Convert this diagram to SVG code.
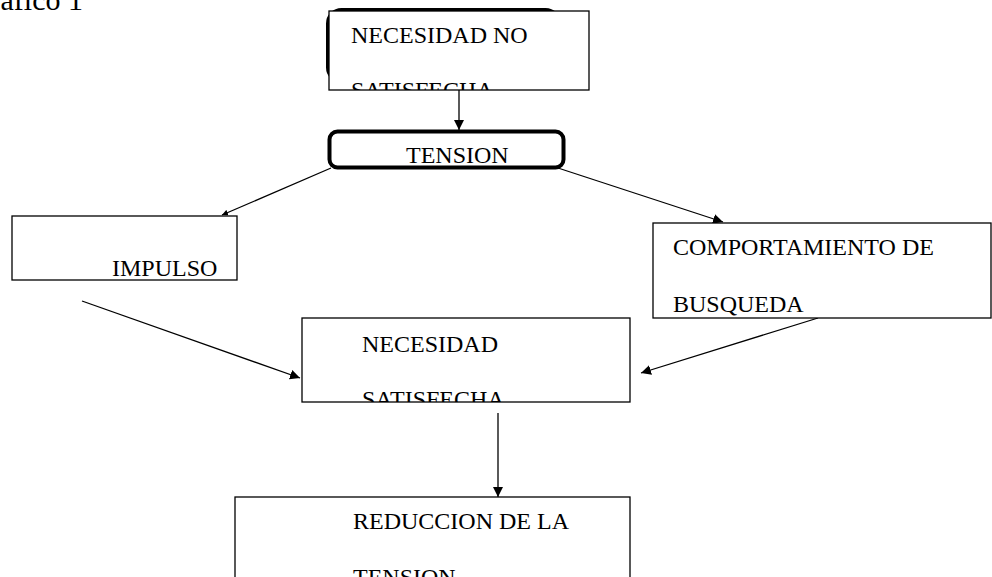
<svg xmlns="http://www.w3.org/2000/svg" width="992" height="577" viewBox="0 0 992 577">
<style>
  .box { fill: #ffffff; stroke: #000000; stroke-width: 1.3; }
  .lbl { font-family: "Liberation Serif", "Times New Roman", serif; font-size: 24px; fill: #000000; }
  .conn { stroke: #000000; stroke-width: 1.3; fill: none; }
</style>
<defs>
  <marker id="ah" viewBox="0 0 10 10" refX="10" refY="5" markerWidth="10" markerHeight="10" markerUnits="userSpaceOnUse" orient="auto">
    <path d="M0,0 L10,5 L0,10 Z" fill="#000000"/>
  </marker>
  <marker id="ahs" viewBox="0 0 10 10" refX="10" refY="5" markerWidth="6" markerHeight="6" markerUnits="userSpaceOnUse" orient="auto">
    <path d="M0,0 L10,5 L0,10 Z" fill="#000000"/>
  </marker>
  <clipPath id="c1"><rect x="329" y="11" width="260" height="79"/></clipPath>
  <clipPath id="c4"><rect x="302" y="318" width="328" height="84"/></clipPath>
  <clipPath id="c6"><rect x="235" y="497" width="395" height="80"/></clipPath>
</defs>
<rect width="992" height="577" fill="#ffffff"/>

<text class="lbl" x="83" y="10" text-anchor="end" style="font-size:30px">afico 1</text>

<g id="connectors">
  <line class="conn" x1="459" y1="90" x2="459" y2="130" marker-end="url(#ah)"/>
  <line class="conn" x1="331" y1="168" x2="222" y2="215" marker-end="url(#ahs)"/>
  <line class="conn" x1="558" y1="168" x2="723" y2="222" marker-end="url(#ah)"/>
  <line class="conn" x1="82" y1="301" x2="300" y2="378" marker-end="url(#ah)"/>
  <line class="conn" x1="818" y1="318" x2="641" y2="373" marker-end="url(#ah)"/>
  <line class="conn" x1="498" y1="413" x2="498" y2="497" marker-end="url(#ah)"/>
</g>

<g id="n1">
  <rect x="327.5" y="9.5" width="232" height="72" rx="14" fill="none" stroke="#000" stroke-width="3"/>
  <rect class="box" x="329" y="11" width="260" height="79"/>
  <g clip-path="url(#c1)">
    <text class="lbl" x="351" y="43">NECESIDAD NO</text>
    <text class="lbl" x="351" y="98">SATISFECHA</text>
  </g>
</g>

<g id="n2">
  <rect x="329.5" y="131.5" width="234" height="36" rx="8" fill="#ffffff" stroke="#000" stroke-width="4"/>
  <text class="lbl" x="406" y="163">TENSION</text>
</g>

<g id="n3">
  <rect class="box" x="12" y="216" width="225" height="64"/>
  <text class="lbl" x="112" y="276">IMPULSO</text>
</g>

<g id="n5">
  <rect class="box" x="653" y="223" width="338" height="95"/>
  <text class="lbl" x="673" y="255">COMPORTAMIENTO DE</text>
  <text class="lbl" x="673" y="312">BUSQUEDA</text>
</g>

<g id="n4">
  <rect class="box" x="302" y="318" width="328" height="84"/>
  <g clip-path="url(#c4)">
    <text class="lbl" x="362" y="352">NECESIDAD</text>
    <text class="lbl" x="362" y="407">SATISFECHA</text>
  </g>
</g>

<g id="n6">
  <rect class="box" x="235" y="497" width="395" height="100"/>
  <g clip-path="url(#c6)">
    <text class="lbl" x="353" y="529">REDUCCION DE LA</text>
    <text class="lbl" x="353" y="585">TENSION</text>
  </g>
</g>
</svg>
